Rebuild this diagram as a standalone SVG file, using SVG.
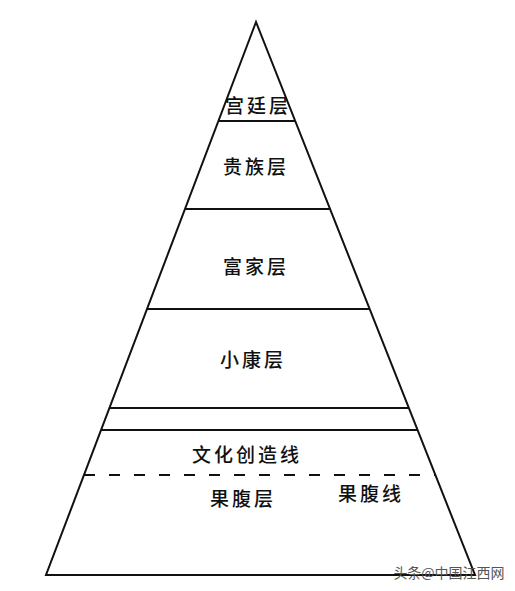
<svg xmlns="http://www.w3.org/2000/svg" width="515" height="591" viewBox="0 0 515 591">
<style>
.ln{stroke:#111;stroke-width:2;fill:none}
.t{font-family:"Noto Sans CJK SC","Noto Sans CJK JP",sans-serif;font-size:19px;font-weight:500;fill:#111;text-anchor:middle;dominant-baseline:central;letter-spacing:3px}
.wm{font-family:"Noto Sans CJK SC",sans-serif;font-size:14px;fill:#555;text-anchor:middle;dominant-baseline:central}
</style>
<rect width="515" height="591" fill="#fff"/>
<g id="pyramid">
<polygon class="ln" points="256,22 46,575 475,575"/>
</g>
<g id="connectors">
<line class="ln" x1="218.4" y1="121" x2="295.2" y2="121"/>
<line class="ln" x1="185" y1="209" x2="330.1" y2="209"/>
<line class="ln" x1="147" y1="309" x2="369.7" y2="309"/>
<line class="ln" x1="109.4" y1="408" x2="408.9" y2="408"/>
<line class="ln" x1="101.1" y1="430" x2="417.6" y2="430" stroke-width="3"/>
<line class="ln" x1="84" y1="475" x2="435.4" y2="475" stroke-dasharray="11,14"/>
</g>
<g id="n-gongting"><text class="t" x="258" y="104" letter-spacing="0">宫廷层</text></g>
<g id="n-guizu"><text class="t" x="256" y="165">贵族层</text></g>
<g id="n-fujia"><text class="t" x="256" y="265">富家层</text></g>
<g id="n-xiaokang"><text class="t" x="253" y="358">小康层</text></g>
<g id="n-wenhua"><text class="t" x="247" y="453" letter-spacing="5px">文化创造线</text></g>
<g id="n-guofuceng"><text class="t" x="243" y="497">果腹层</text></g>
<g id="n-guofuxian"><text class="t" x="371" y="492">果腹线</text></g>
<g id="watermark"><text class="wm" x="449" y="572">头条@中国江西网</text></g>
</svg>
